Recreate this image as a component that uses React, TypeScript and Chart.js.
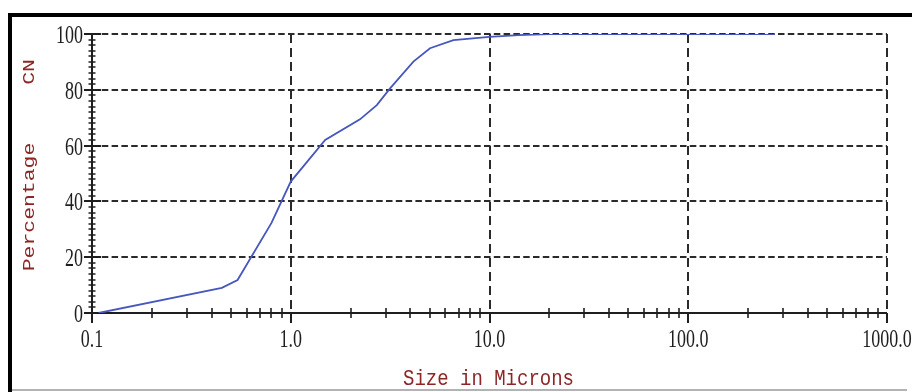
import { useEffect, useRef } from "react";
import { Chart, registerables } from "chart.js";

Chart.register(...registerables);

// Cumulative number distribution (CN) against particle size
const sizeMicrons = [0.108, 0.45, 0.54, 0.8, 1.0, 1.49, 2.23, 2.71, 3.16, 4.14, 5.02, 6.58, 10, 14, 20, 273];
const cumulativeCN = [0, 9.0, 11.8, 32.3, 47.1, 62.0, 69.4, 74.5, 80.5, 90.1, 94.9, 97.8, 99.0, 99.6, 100, 100];

const xTickValues = [0.1, 1, 10, 100, 1000];
const xTickLabels = ["0.1", "1.0", "10.0", "100.0", "1000.0"];
const yTickValues = [0, 20, 40, 60, 80, 100];
const yTickLabels = ["0", "20", "40", "60", "80", "100"];
const yMinorStep = 2;
const xMinorMultipliers = [2, 3, 4, 5, 6, 7, 8, 9];

const xTitle = "Size in Microns";
const yTitle = "Percentage";
const yTitleTag = "CN";

const W = 912;
const H = 392;
const TITLE_RED = "#8c2626";
const INK = "#1e1e1e";

function stretchedText(
  ctx: CanvasRenderingContext2D,
  text: string,
  x: number,
  y: number,
  font: string,
  sy: number,
  align: CanvasTextAlign,
  color: string
) {
  ctx.save();
  ctx.translate(x, y);
  ctx.scale(1, sy);
  ctx.font = font;
  ctx.fillStyle = color;
  ctx.textAlign = align;
  ctx.textBaseline = "alphabetic";
  ctx.fillText(text, 0, 0);
  ctx.restore();
}

const axesPlugin = {
  id: "psdAxes",
  beforeDatasetsDraw(chart: any) {
    const { ctx, chartArea: a, scales } = chart;
    const xs = scales.x;
    const ys = scales.y;
    ctx.save();

    // dashed grid
    ctx.strokeStyle = "#2a2a2a";
    ctx.lineWidth = 2;
    ctx.setLineDash([6.5, 3.3]);
    for (const v of yTickValues) {
      if (v === yTickValues[0]) continue;
      const py = Math.round(ys.getPixelForValue(v));
      ctx.beginPath();
      ctx.moveTo(a.left, py);
      ctx.lineTo(a.right, py);
      ctx.stroke();
    }
    ctx.setLineDash([9, 5]);
    for (const v of xTickValues) {
      if (v === xTickValues[0]) continue;
      const px = Math.round(xs.getPixelForValue(v));
      ctx.beginPath();
      ctx.moveTo(px, a.top);
      ctx.lineTo(px, a.bottom);
      ctx.stroke();
    }
    ctx.setLineDash([]);

    // axis lines
    ctx.strokeStyle = INK;
    ctx.lineWidth = 2;
    const x0 = Math.round(a.left);
    const y0 = Math.round(a.bottom);
    ctx.beginPath();
    ctx.moveTo(x0, Math.round(a.top));
    ctx.lineTo(x0, y0);
    ctx.lineTo(Math.round(a.right), y0);
    ctx.stroke();

    // y ticks (major every 20, minor every 2)
    for (let v = 0; v <= 100; v += yMinorStep) {
      const py = Math.round(ys.getPixelForValue(v));
      const major = yTickValues.includes(v);
      ctx.lineWidth = major ? 2 : 1.5;
      ctx.beginPath();
      ctx.moveTo(x0 - (major ? 8 : 3.5), py);
      ctx.lineTo(x0 + (major ? 9 : 3.5), py);
      ctx.stroke();
    }

    // x ticks (decades + 2..9 minor)
    ctx.lineWidth = 1.6;
    for (let i = 0; i < xTickValues.length - 1; i++) {
      for (const m of xMinorMultipliers) {
        const px = Math.round(xs.getPixelForValue(xTickValues[i] * m));
        ctx.beginPath();
        ctx.moveTo(px, y0 - 5);
        ctx.lineTo(px, y0 + 5);
        ctx.stroke();
      }
    }
    ctx.lineWidth = 2;
    for (const v of xTickValues) {
      const px = Math.round(xs.getPixelForValue(v));
      ctx.beginPath();
      ctx.moveTo(px, y0);
      ctx.lineTo(px, y0 + 10);
      ctx.stroke();
    }
    ctx.restore();
  },
  afterDraw(chart: any) {
    const { ctx, chartArea: a, scales } = chart;
    const xs = scales.x;
    const ys = scales.y;
    ctx.save();

    const tickFont = '18px "Liberation Serif", "Times New Roman", serif';
    yTickValues.forEach((v, i) => {
      const py = ys.getPixelForValue(v);
      stretchedText(ctx, yTickLabels[i], a.left - 9, py + 9, tickFont, 1.45, "right", INK);
    });
    xTickValues.forEach((v, i) => {
      const px = xs.getPixelForValue(v);
      stretchedText(ctx, xTickLabels[i], px, a.bottom + 34, tickFont, 1.45, "center", INK);
    });

    // axis titles
    stretchedText(
      ctx,
      xTitle,
      (a.left + a.right) / 2 - 1,
      385,
      '19px "Liberation Mono", "Courier New", monospace',
      1.2,
      "center",
      TITLE_RED
    );
    const drawRotated = (text: string, cy: number) => {
      ctx.save();
      ctx.translate(34, cy);
      ctx.rotate(-Math.PI / 2);
      ctx.scale(1.3, 1);
      ctx.font = '16.5px "Liberation Mono", "Courier New", monospace';
      ctx.fillStyle = TITLE_RED;
      ctx.textAlign = "center";
      ctx.textBaseline = "alphabetic";
      ctx.fillText(text, 0, 0);
      ctx.restore();
    };
    drawRotated(yTitle, 207);
    drawRotated(yTitleTag, 72);

    // frame
    ctx.fillStyle = "#000";
    ctx.fillRect(8, 13, W - 8, 4);
    ctx.fillRect(8, 13, 4, H - 13);
    ctx.strokeStyle = "#9a9a9a";
    ctx.lineWidth = 1.5;
    ctx.beginPath();
    ctx.moveTo(12, 390);
    ctx.lineTo(907, 390);
    ctx.stroke();
    ctx.restore();
  },
};

export default function App() {
  const canvasRef = useRef<HTMLCanvasElement | null>(null);

  useEffect(() => {
    const canvas = canvasRef.current;
    if (!canvas) return;
    const chart = new Chart(canvas, {
      type: "line",
      data: {
        datasets: [
          {
            label: "CN",
            data: sizeMicrons.map((s, i) => ({ x: s, y: cumulativeCN[i] })),
            borderColor: "#4656bd",
            borderWidth: 1.8,
            pointRadius: 0,
            tension: 0,
            fill: false,
          },
        ],
      },
      options: {
        responsive: false,
        maintainAspectRatio: false,
        animation: false,
        devicePixelRatio: 1,
        layout: { padding: { left: 92, right: 25, top: 34, bottom: 79 } },
        scales: {
          x: { type: "logarithmic", min: 0.1, max: 1000, display: false },
          y: { type: "linear", min: 0, max: 100, display: false },
        },
        plugins: {
          legend: { display: false },
          tooltip: { enabled: false },
        },
      },
      plugins: [axesPlugin],
    });
    return () => chart.destroy();
  }, []);

  return (
    <div
      style={{
        position: "absolute",
        left: 0,
        top: 0,
        width: W,
        height: H,
        background: "#fff",
      }}
    >
      <canvas ref={canvasRef} width={W} height={H} style={{ display: "block" }} />
    </div>
  );
}
